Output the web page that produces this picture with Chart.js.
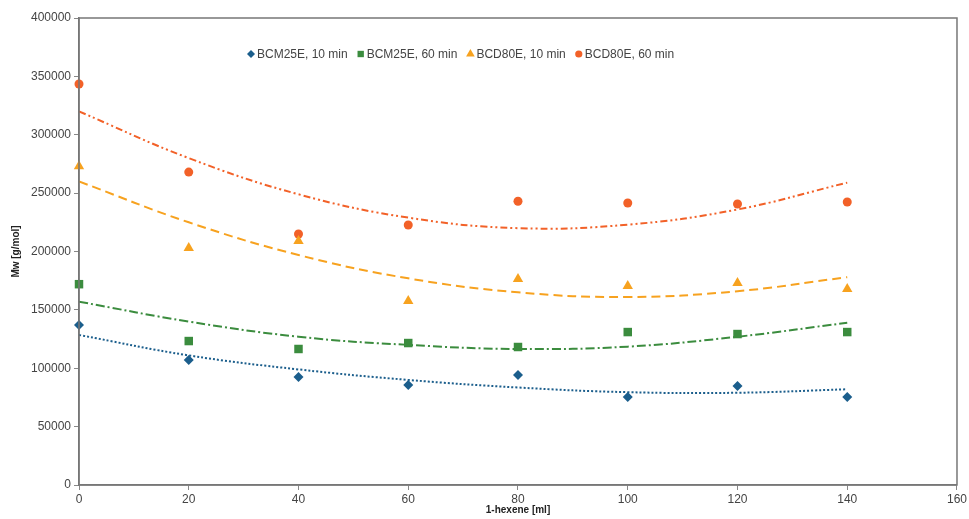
<!DOCTYPE html>
<html><head><meta charset="utf-8">
<script src="https://cdn.jsdelivr.net/npm/chart.js@4/dist/chart.umd.min.js"></script>
<style>html,body{margin:0;padding:0;background:#fff;}#wrap{width:969px;height:519px;}</style>
</head><body><div id="wrap"><canvas id="c" width="969" height="519"></canvas></div>
<script>
const hexene = [0, 20, 40, 60, 80, 100, 120, 140];
const bcm25e10 = [137000, 107000, 92500, 85600, 94200, 75400, 84800, 75400];
const bcm25e60 = [172000, 123300, 116500, 121600, 118200, 131000, 129300, 131000];
const bcd80e10 = [273000, 203000, 209000, 157600, 176400, 170400, 173000, 167900];
const bcd80e60 = [343500, 268000, 215000, 222700, 243000, 241500, 240700, 242400];
// trend lines at the same x positions
const trend25e10 = [128500, 111000, 99000, 90000, 83500, 79500, 79000, 82000];
const trend25e60 = [157000, 140000, 127000, 120000, 116500, 118500, 127000, 139000];
const trend80e10 = [260000, 225000, 197000, 177000, 165000, 161000, 166000, 178000];
const trend80e60 = [320000, 280000, 249000, 229000, 220000, 223000, 236000, 259000];
const seriesNames = ['BCM25E, 10 min', 'BCM25E, 60 min', 'BCD80E, 10 min', 'BCD80E, 60 min'];
const xTicks = [0, 20, 40, 60, 80, 100, 120, 140, 160];
const yTicks = [0, 50000, 100000, 150000, 200000, 250000, 300000, 350000, 400000];

const FONT = 'Liberation Sans, Arial, sans-serif';
const colors = ['#1b5e8c', '#3b8c3e', '#f7a21f', '#f26128'];
const styles = ['rectRot', 'rect', 'triangle', 'circle'];
const radii = [5, 6, 6, 4.5];
const legendRadii = [4, 4.5, 5, 3.6];
const dashes = [[2, 2], [9, 3, 2, 3], [9, 5], [7, 3, 2, 3, 2, 3]];
const pts = [bcm25e10, bcm25e60, bcd80e10, bcd80e60];
const trends = [trend25e10, trend25e60, trend80e10, trend80e60];
const pair = (arr) => hexene.map((x, i) => ({x: x, y: arr[i]}));

const datasets = [];
for (let i = 0; i < 4; i++) {
  datasets.push({
    label: seriesNames[i], data: pair(pts[i]), showLine: false, clip: false,
    pointStyle: styles[i], pointRadius: radii[i], pointHoverRadius: radii[i],
    backgroundColor: colors[i], borderColor: colors[i], borderWidth: 0, order: 0
  });
}
for (let i = 0; i < 4; i++) {
  datasets.push({
    label: 'trend ' + seriesNames[i], data: pair(trends[i]), showLine: true,
    pointRadius: 0, borderColor: colors[i], borderWidth: 2, borderDash: dashes[i],
    tension: 0.4, fill: false, order: 1
  });
}

const frame = {
  id: 'frame',
  afterDraw(chart) {
    const a = chart.chartArea, ctx = chart.ctx;
    ctx.save(); ctx.strokeStyle = '#777'; ctx.lineWidth = 1.5;
    ctx.strokeRect(a.left, a.top, a.right - a.left, a.bottom - a.top);
    ctx.restore();
    // legend inside the plot area
    ctx.save();
    ctx.font = '12px ' + FONT;
    ctx.textBaseline = 'middle';
    ctx.textAlign = 'left';
    let x = a.left + 168;
    const y = a.top + 36;
    for (let i = 0; i < 4; i++) {
      const ds = chart.data.datasets[i];
      ctx.fillStyle = ds.backgroundColor;
      ctx.strokeStyle = ds.backgroundColor;
      Chart.helpers.drawPoint(ctx, { pointStyle: ds.pointStyle, radius: legendRadii[i], borderWidth: 0, rotation: 0 }, x + 4, y);
      ctx.fillStyle = '#444';
      ctx.fillText(ds.label, x + 10, y + 0.5);
      x += 10 + ctx.measureText(ds.label).width + 9;
    }
    ctx.restore();
  }
};

new Chart(document.getElementById('c'), {
  type: 'scatter',
  data: { datasets },
  options: {
    responsive: false, animation: false,
    layout: { padding: { left: 0, top: 18, right: 10, bottom: 0 } },
    plugins: { tooltip: { enabled: false }, legend: { display: false } },
    scales: {
      x: {
        type: 'linear', min: 0, max: 160,
        afterFit(s) { s.height = 34; },
        afterBuildTicks(s) { s.ticks = xTicks.map(v => ({value: v})); },
        grid: { drawOnChartArea: false, tickLength: 5, color: '#888' },
        border: { color: '#777', width: 1.5 },
        ticks: { padding: 2, color: '#444', font: { family: FONT, size: 12 } },
        title: { display: true, text: '1-hexene [ml]', color: '#222', padding: { top: 0, bottom: 3 },
          font: { family: FONT, size: 10, weight: 'bold' } }
      },
      y: {
        min: 0, max: 400000,
        afterFit(s) { s.width = 79; },
        afterBuildTicks(s) { s.ticks = yTicks.map(v => ({value: v})); },
        grid: { drawOnChartArea: false, tickLength: 5, color: '#888' },
        border: { color: '#777', width: 1.5 },
        ticks: { padding: 3, color: '#444', callback: (v) => String(v), font: { family: FONT, size: 12 } },
        title: { display: true, text: 'Mw [g/mol]', color: '#222', padding: { top: 10, bottom: 0 },
          font: { family: FONT, size: 10, weight: 'bold' } }
      }
    }
  },
  plugins: [frame]
});
</script></body></html>
